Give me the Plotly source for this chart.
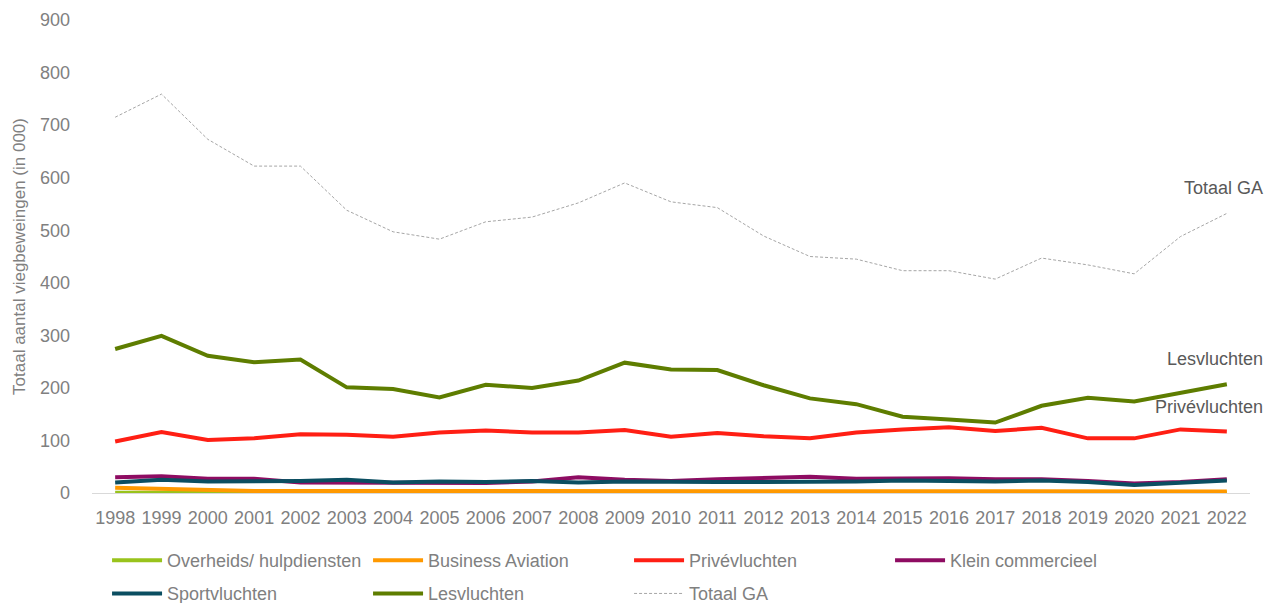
import plotly.graph_objects as go

years = [str(y) for y in range(1998, 2023)]

overheids = [0.5, 0.5, 0.5, 0.5, 0.5, 0.5, 0.5, 0.5, 0.5, 0.5, 0.5, 0.5, 0.5, 0.5, 0.5, 0.5, 0.5, 0.5, 0.5, 0.5, 0.5, 0.5, 0.5, 0.5, 0.5]
business = [10, 8, 5, 4, 4, 4, 4, 4, 4, 4, 4, 4, 3.5, 3.5, 3.5, 3, 3, 3, 3, 3, 3, 3, 2.5, 3, 3]
prive = [98, 116, 101, 104, 112, 111, 107, 115, 119, 115, 115, 120, 107, 114, 108, 104, 115, 121, 125, 118, 124, 104, 104, 121, 117]
klein = [30, 32, 27, 27, 20, 20, 20, 20, 19, 22, 30, 25, 23, 26, 28, 31, 27, 27, 28, 26, 26, 23, 18, 21, 26]
sport = [20, 25, 22, 22, 23, 25, 20, 22, 21, 23, 20, 22, 21, 21, 21, 21, 22, 24, 23, 22, 24, 21, 15, 19, 24]
les = [274, 299, 261, 249, 254, 201, 198, 182, 206, 200, 214, 248, 235, 234, 205, 180, 169, 145, 140, 134, 166, 181, 174, 190, 207]
totaal = [715, 759, 673, 622, 622, 538, 497, 483, 516, 525, 552, 590, 554, 543, 489, 450, 445, 423, 423, 407, 447, 434, 417, 488, 532]

y_ticks = [0, 100, 200, 300, 400, 500, 600, 700, 800, 900]

FONT = "Liberation Sans, Arial, sans-serif"
GRAY = "#808080"

series = [
    ("Overheids/ hulpdiensten", overheids, "#99C31C", None, 4, "legend"),
    ("Business Aviation", business, "#FF9900", None, 4, "legend"),
    ("Privévluchten", prive, "#FF1F14", None, 4, "legend"),
    ("Klein commercieel", klein, "#8E0C62", None, 4, "legend"),
    ("Sportvluchten", sport, "#0B4E61", None, 4, "legend2"),
    ("Lesvluchten", les, "#5E7D00", None, 4, "legend2"),
    ("Totaal GA", totaal, "#A6A6A6", "3px,2px", 1, "legend2"),
]

fig = go.Figure()
for name, vals, color, dash, width, lg in series:
    fig.add_trace(go.Scatter(
        x=years, y=vals, name=name, mode="lines",
        line=dict(color=color, width=width, dash=dash),
        legend=lg,
    ))

annotations = []
for name, vals in [("Totaal GA", totaal), ("Lesvluchten", les), ("Privévluchten", prive)]:
    annotations.append(dict(
        xref="x", yref="y",
        x=len(years) - 1, y=vals[-1], text=name, showarrow=False,
        xanchor="right", yanchor="middle", xshift=38, yshift=25,
        font=dict(family=FONT, size=18, color="#595959"),
    ))

legend_common = dict(
    orientation="h", xanchor="left", yanchor="middle",
    font=dict(family=FONT, size=18, color=GRAY),
    itemwidth=50, entrywidth=196, entrywidthmode="pixels",
    bgcolor="rgba(0,0,0,0)", tracegroupgap=0,
    itemclick=False,
)

fig.update_layout(
    width=1268, height=603,
    margin=dict(l=92, r=18, t=20, b=110, autoexpand=False),
    paper_bgcolor="white", plot_bgcolor="white",
    font=dict(family=FONT, size=18, color=GRAY),
    showlegend=True,
    annotations=annotations,
    legend=dict(x=0.013, y=-0.143, **legend_common),
    legend2=dict(x=0.013, y=-0.213, **legend_common),
    xaxis=dict(
        type="category", range=[-0.5, 24.5], automargin=False,
        showgrid=False, zeroline=False, showline=False,
        ticks="", tickfont=dict(family=FONT, size=18, color=GRAY),
        ticklabelstandoff=12,
    ),
    yaxis=dict(
        range=[0, 900], tickvals=y_ticks, automargin=False,
        showgrid=False, zeroline=True, zerolinecolor="#D9D9D9", zerolinewidth=1,
        showline=False, ticks="",
        tickfont=dict(family=FONT, size=18, color=GRAY),
        ticklabelstandoff=21,
        title=dict(text="Totaal aantal viegbeweingen (in 000)",
                   font=dict(family=FONT, size=17, color=GRAY), standoff=10),
    ),
)

fig.write_html(
    "out.html",
    config={"displayModeBar": False},
    post_script="document.body.style.margin='0';document.body.style.overflow='hidden';",
)
